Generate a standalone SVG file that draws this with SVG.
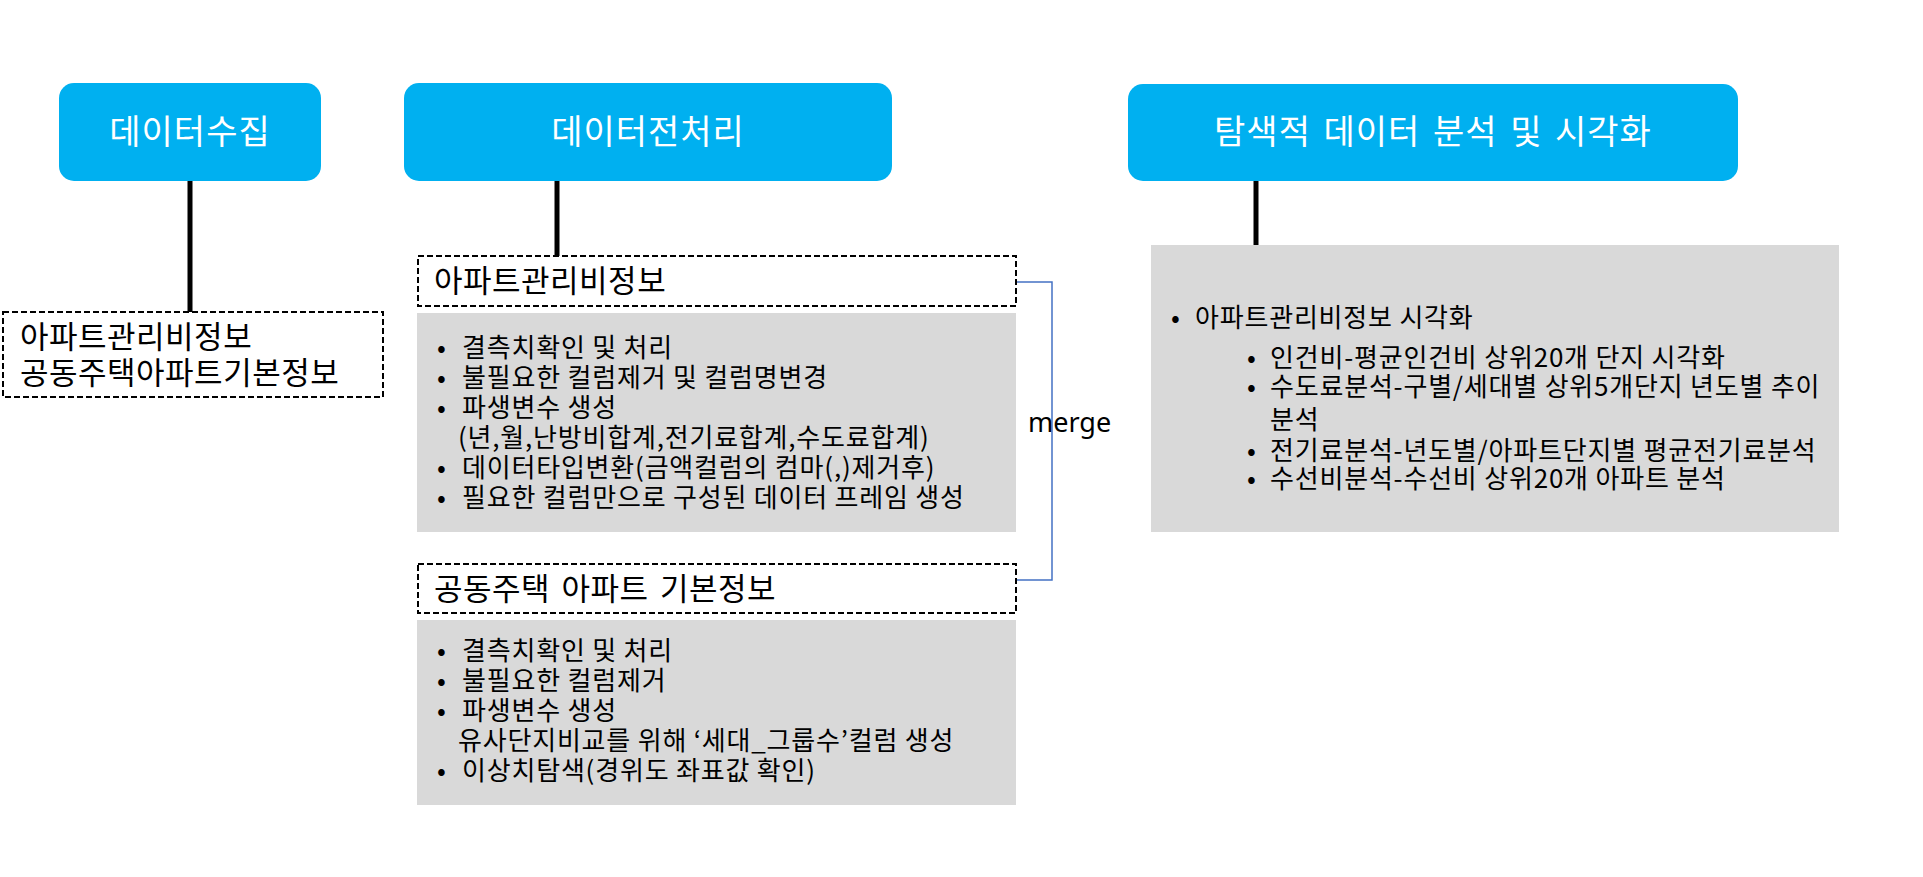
<svg xmlns="http://www.w3.org/2000/svg" width="1923" height="877" viewBox="0 0 1923 877">
<style>
.hdr{fill:#00B0F0}
.title{font-family:"Noto Sans CJK KR","Noto Sans",sans-serif;font-size:34px;letter-spacing:1px;fill:#ffffff;text-anchor:middle}
.lbl{font-family:"Noto Sans CJK KR","Noto Sans",sans-serif;font-size:31px;letter-spacing:0.5px;fill:#000000}
.txt{font-family:"Noto Sans CJK KR","Noto Sans",sans-serif;font-size:26px;letter-spacing:0.8px;fill:#000000}
.dash{fill:#ffffff;stroke:#000000;stroke-width:2;stroke-dasharray:6 3}
.gray{fill:#D9D9D9}
.conn{stroke:#000000;stroke-width:5;fill:none}
.merge{stroke:#4472C4;stroke-width:1.5;fill:none}
</style>
<rect width="1923" height="877" fill="#ffffff"/>
<g id="connectors">
<line class="conn" x1="190" y1="181" x2="190" y2="312"/>
<line class="conn" x1="557" y1="181" x2="557" y2="262"/>
<line class="conn" x1="1256" y1="181" x2="1256" y2="245"/>
<polyline class="merge" points="1017,282 1052,282 1052,580 1013,580"/>
<text x="1028" y="432" font-family="Noto Sans, sans-serif" font-size="27" fill="#000000">merge</text>
</g>
<g id="collect">
<rect class="hdr" x="59" y="83" width="262" height="98" rx="15"/>
<text class="title" x="190" y="144">데이터수집</text>
</g>
<g id="collect-items">
<rect class="dash" x="3" y="312" width="380" height="85"/>
<text class="lbl" x="20" y="348">아파트관리비정보</text>
<text class="lbl" x="20" y="384">공동주택아파트기본정보</text>
</g>
<g id="preprocess">
<rect class="hdr" x="404" y="83" width="488" height="98" rx="15"/>
<text class="title" x="648" y="144">데이터전처리</text>
</g>
<g id="mgmt-fee">
<rect class="dash" x="418" y="256" width="598" height="50"/>
<text class="lbl" x="434" y="292">아파트관리비정보</text>
<rect class="gray" x="417" y="313" width="599" height="219"/>
<text class="txt" y="357"><tspan x="437">•</tspan><tspan x="462">결측치확인 및 처리</tspan></text>
<text class="txt" y="387"><tspan x="437">•</tspan><tspan x="462">불필요한 컬럼제거 및 컬럼명변경</tspan></text>
<text class="txt" y="417"><tspan x="437">•</tspan><tspan x="462">파생변수 생성</tspan></text>
<text class="txt" x="458" y="447">(년,월,난방비합계,전기료합계,수도료합계)</text>
<text class="txt" y="477"><tspan x="437">•</tspan><tspan x="462">데이터타입변환(금액컬럼의 컴마(,)제거후)</tspan></text>
<text class="txt" y="507"><tspan x="437">•</tspan><tspan x="462">필요한 컬럼만으로 구성된 데이터 프레임 생성</tspan></text>
</g>
<g id="apt-basic">
<rect class="dash" x="418" y="564" width="598" height="49"/>
<text class="lbl" x="434" y="600" word-spacing="4">공동주택 아파트 기본정보</text>
<rect class="gray" x="417" y="620" width="599" height="185"/>
<text class="txt" y="660"><tspan x="437">•</tspan><tspan x="462">결측치확인 및 처리</tspan></text>
<text class="txt" y="690"><tspan x="437">•</tspan><tspan x="462">불필요한 컬럼제거</tspan></text>
<text class="txt" y="720"><tspan x="437">•</tspan><tspan x="462">파생변수 생성</tspan></text>
<text class="txt" x="458" y="750">유사단지비교를 위해 ‘세대_그룹수’컬럼 생성</text>
<text class="txt" y="780"><tspan x="437">•</tspan><tspan x="462">이상치탐색(경위도 좌표값 확인)</tspan></text>
</g>
<g id="eda">
<rect class="hdr" x="1128" y="84" width="610" height="97" rx="15"/>
<text class="title" x="1433" y="144" word-spacing="4">탐색적 데이터 분석 및 시각화</text>
</g>
<g id="eda-items">
<rect class="gray" x="1151" y="245" width="688" height="287"/>
<text class="txt" y="327"><tspan x="1171">•</tspan><tspan x="1195">아파트관리비정보 시각화</tspan></text>
<text class="txt" y="367"><tspan x="1247">•</tspan><tspan x="1270">인건비-평균인건비 상위20개 단지 시각화</tspan></text>
<text class="txt" y="396"><tspan x="1247">•</tspan><tspan x="1270">수도료분석-구별/세대별 상위5개단지 년도별 추이</tspan></text>
<text class="txt" x="1270" y="429">분석</text>
<text class="txt" y="460"><tspan x="1247">•</tspan><tspan x="1270">전기료분석-년도별/아파트단지별 평균전기료분석</tspan></text>
<text class="txt" y="488"><tspan x="1247">•</tspan><tspan x="1270">수선비분석-수선비 상위20개 아파트 분석</tspan></text>
</g>
</svg>
